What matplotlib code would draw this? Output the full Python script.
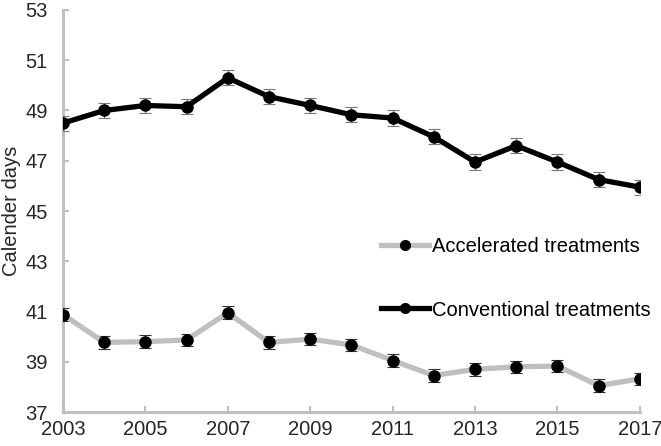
import matplotlib
matplotlib.use("Agg")
import matplotlib.pyplot as plt
from matplotlib.lines import Line2D

plt.rcParams["font.family"] = ["Liberation Sans", "DejaVu Sans"]

# -- Data ---------------------------------------------------------------------
years = list(range(2003, 2018))
conventional = [48.5, 49.0, 49.2, 49.15, 50.3, 49.55, 49.2, 48.83,
                48.7, 47.95, 46.95, 47.6, 46.95, 46.25, 45.95]
conventional_err = [0.3] * 15
accelerated = [40.88, 39.77, 39.8, 39.87, 40.95, 39.77, 39.9, 39.67,
               39.05, 38.45, 38.7, 38.8, 38.83, 38.05, 38.32]
accelerated_err = [0.25] * 15

xticks = list(range(2003, 2018, 2))
yticks = list(range(37, 54, 2))

AXIS_GRAY = "#bfbfbf"
LINE_GRAY = "#bfbfbf"
TEXT = "#262626"

fig = plt.figure(figsize=(6.61, 4.46), dpi=100)
ax = fig.add_axes([0.0953, 0.0762, 0.8727, 0.9014])

ax.errorbar(years, accelerated, yerr=accelerated_err, color=LINE_GRAY, lw=3.8,
            marker="o", ms=8, mfc="black", mec="black",
            ecolor="#333333", elinewidth=0.8, capsize=4, capthick=0.8, zorder=3)
ax.errorbar(years, conventional, yerr=conventional_err, color="black", lw=3.8,
            marker="o", ms=8, mfc="black", mec="black",
            ecolor="#777777", elinewidth=0.8, capsize=4, capthick=0.8, zorder=3)

ax.set_xlim(2003, 2017)
ax.set_ylim(37, 53)
ax.set_xticks(xticks)
ax.set_yticks(yticks)
ax.tick_params(axis="both", direction="in", length=4, width=1.5,
               color=AXIS_GRAY, labelsize=14.5, labelcolor=TEXT)
ax.tick_params(axis="x", pad=6)
ax.tick_params(axis="y", pad=11)
for side in ["top", "right"]:
    ax.spines[side].set_visible(False)
for side in ["left", "bottom"]:
    ax.spines[side].set_color(AXIS_GRAY)
    ax.spines[side].set_linewidth(2.2)

ax.set_ylabel("Calender days", fontsize=14.5, color=TEXT, labelpad=3)

handles = [
    Line2D([], [], color=LINE_GRAY, lw=3.8, marker="o", ms=7,
           mfc="black", mec="black"),
    Line2D([], [], color="black", lw=3.8, marker="o", ms=7,
           mfc="black", mec="black"),
]
labels = ["Accelerated treatments", "Conventional treatments"]
ax.legend(handles, labels, loc="lower left",
          bbox_to_anchor=(0.533, 0.205), frameon=False,
          fontsize=14.5, labelspacing=2.2, handlelength=2.4,
          handletextpad=0.15, borderpad=0, labelcolor="black")

fig.savefig("out.png", dpi=100)
